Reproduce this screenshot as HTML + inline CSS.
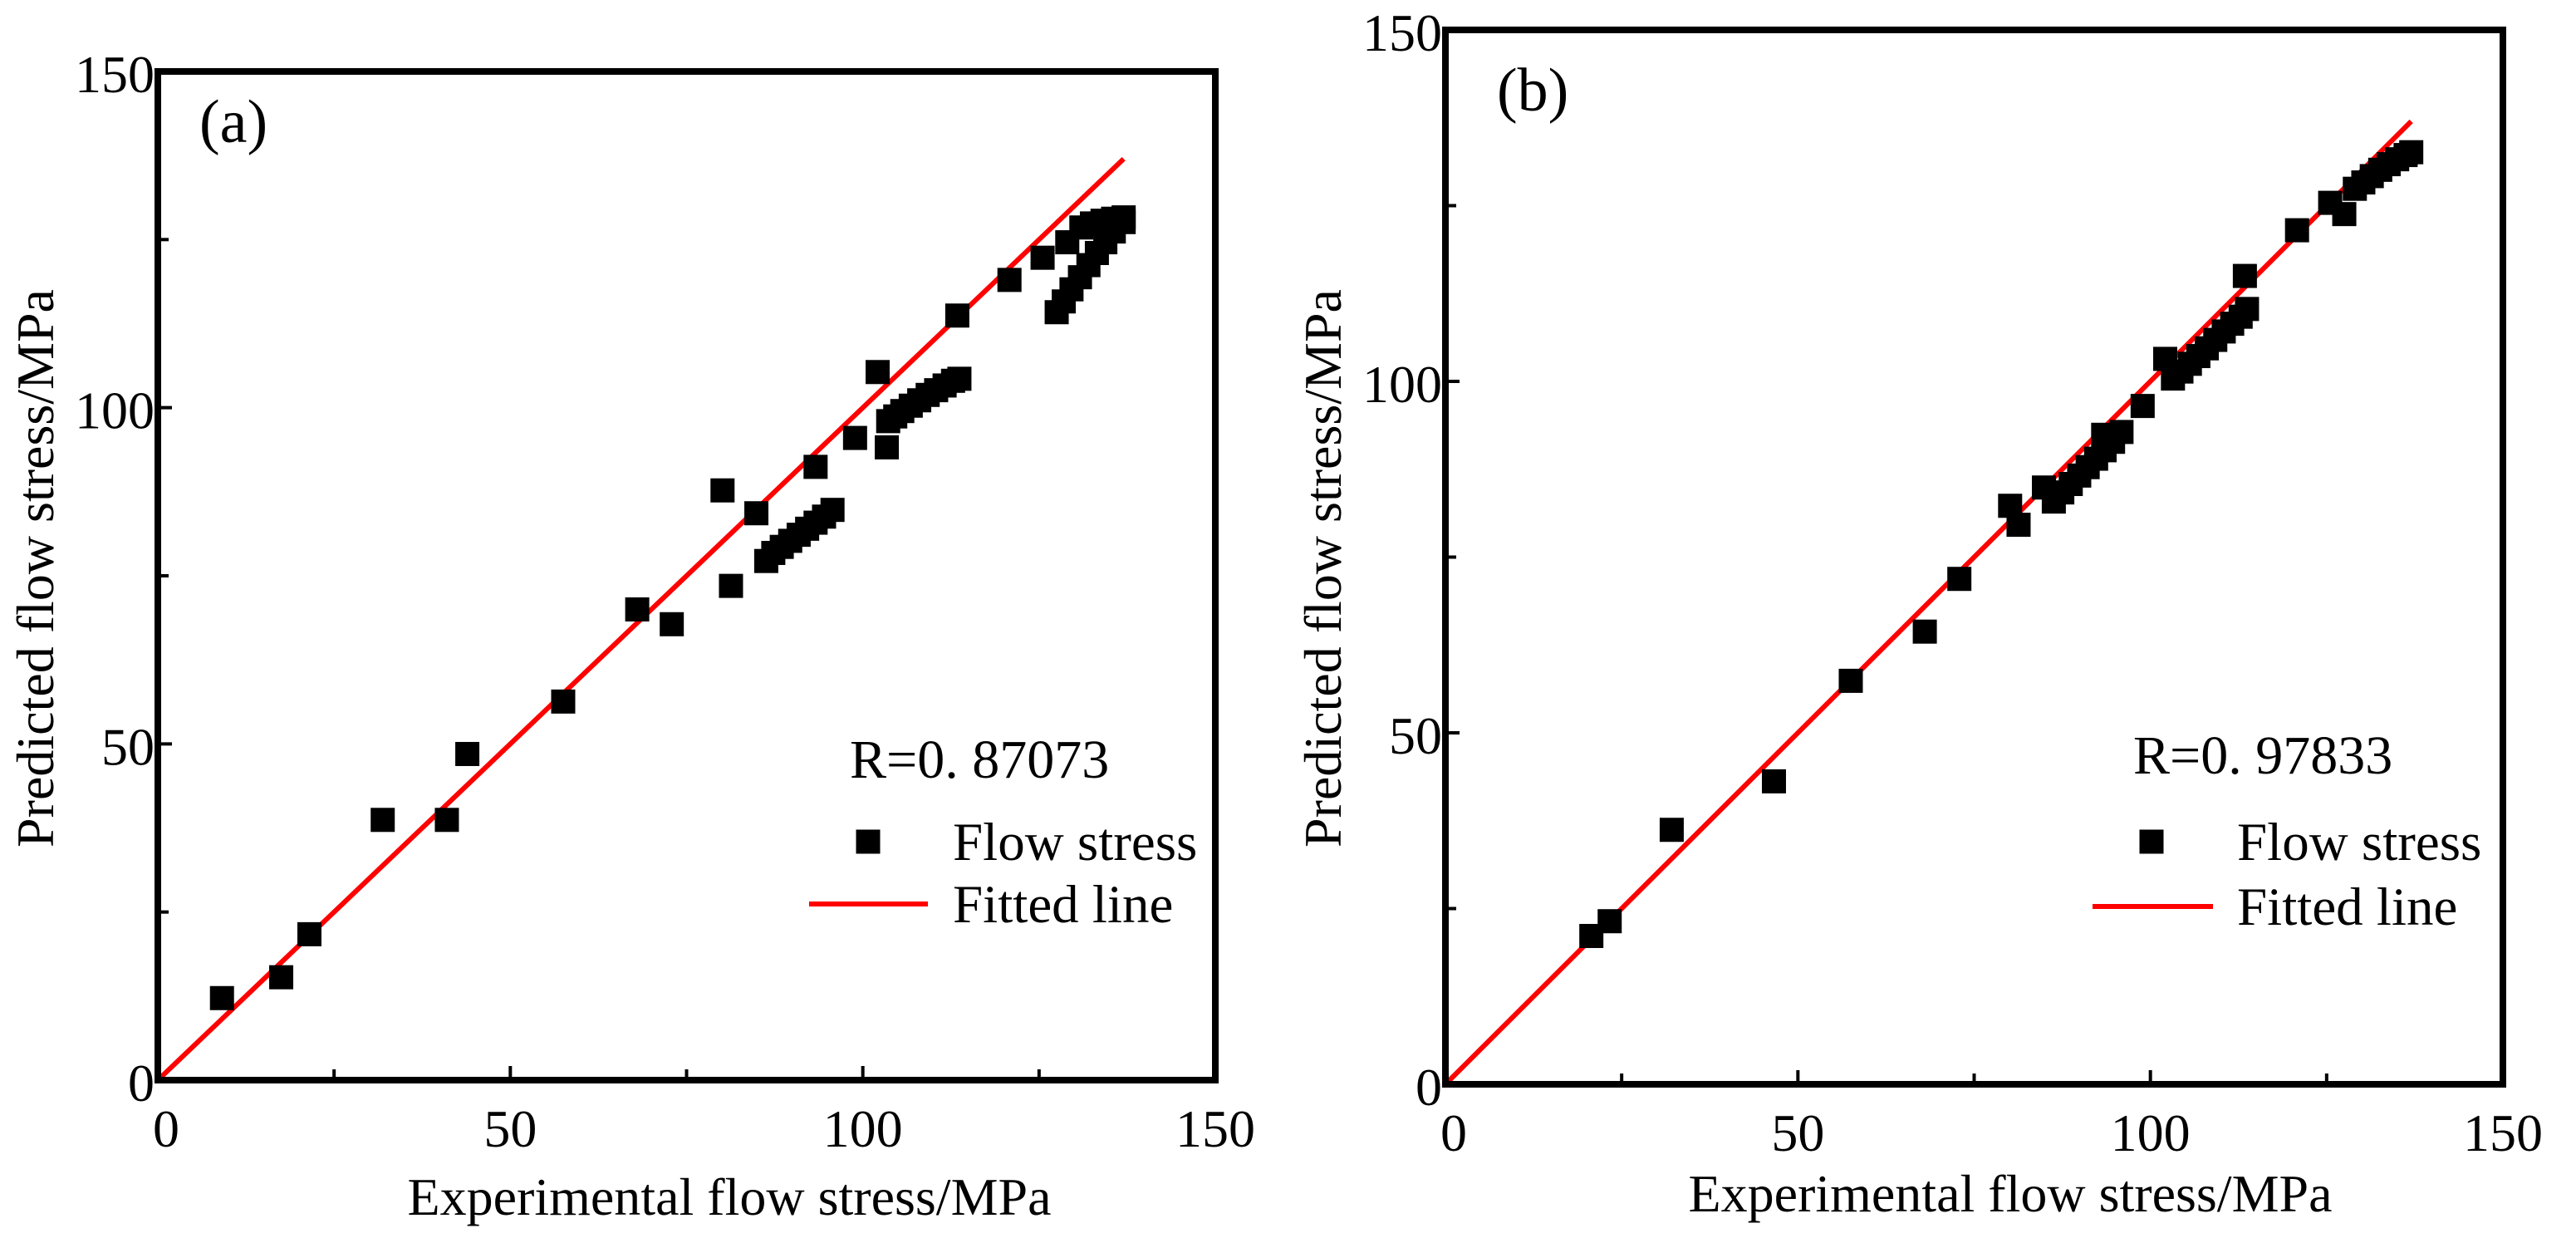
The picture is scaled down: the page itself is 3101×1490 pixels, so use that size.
<!DOCTYPE html>
<html><head><meta charset="utf-8"><style>
html,body{margin:0;padding:0;background:#fff}
svg{display:block}
text{font-family:"Liberation Serif","Times New Roman",serif;fill:#000}
</style></head><body>
<svg id="chart" width="3101" height="1490" viewBox="0 0 3101 1490" xmlns="http://www.w3.org/2000/svg" font-family="Liberation Serif, serif"></svg>
<script>
const ticksMajor = [0, 50, 100, 150];
const ticksMinor = [25, 75, 125];
const fitEnd = 137;
const aX = [9.1,17.5,21.5,31.9,41.0,43.9,57.5,68.0,72.9,80.1,81.3,84.9,86.3,87.3,88.5,89.7,90.9,92.1,93.3,94.5,95.7,93.3,98.9,102.1,103.4,103.6,104.6,105.6,106.8,108,109.2,110.4,111.6,112.8,113.7,113.4,120.8,125.5,129.0,127.5,128.5,129.6,130.8,132,133.2,134.4,135.6,137,131,132.5,134,135.5,137];
const aY = [12.2,15.3,21.7,38.7,38.7,48.5,56.3,70.0,67.8,87.7,73.5,84.3,77.2,78.4,79.3,80.2,81.1,82.0,82.9,83.8,84.8,91.2,95.5,105.3,94.1,98.0,98.7,99.5,100.3,101.1,101.9,102.6,103.3,104.0,104.3,113.7,119.0,122.3,124.6,114.2,115.8,117.6,119.4,121.2,123.0,124.6,126.2,127.6,126.8,127.4,127.8,128.1,128.3];
const bX = [20.7,23.3,32.1,46.6,57.5,68.0,72.9,80.1,81.3,84.9,86.3,87.5,88.7,89.9,91.1,92.3,93.5,94.7,95.9,93.3,98.9,102.1,103.2,104.4,105.6,106.8,108,109.2,110.4,111.6,112.8,113.7,113.4,120.8,125.5,127.5,129,130.2,131.4,132.6,133.8,135,136.2,137];
const bY = [21.1,23.2,36.2,43.1,57.4,64.4,71.9,82.3,79.6,84.9,82.9,84.2,85.4,86.6,87.8,89.0,90.2,91.4,92.8,92.4,96.5,103.2,100.4,101.4,102.5,103.6,104.7,105.9,107.1,108.2,109.2,110.3,115.0,121.5,125.4,123.8,127.4,128.3,129.2,130.1,130.9,131.6,132.2,132.6];

const NS = "http://www.w3.org/2000/svg";
const svg = document.getElementById("chart");
const M = 29;
function mk(tag, attrs, parent, text){
  const e = document.createElementNS(NS, tag);
  for (const k in attrs) e.setAttribute(k, attrs[k]);
  if (text !== undefined) e.textContent = text;
  (parent || svg).appendChild(e);
  return e;
}
function panel(p){
  const g = mk("g", {});
  
  
  const sx = v => p.L + (v / 150) * (p.R - p.L);
  const sy = v => p.B - (v / 150) * (p.B - p.T);
  const fl = mk("line", {x1:sx(0), y1:sy(0), x2:sx(fitEnd), y2:sy(fitEnd), stroke:"#ff0000", "stroke-width":6}, g);
  
  
  for (let i = 0; i < p.xs.length; i++){
    const r = mk("rect", {x:sx(p.xs[i]) - M/2, y:sy(p.ys[i]) - M/2, width:M, height:M, fill:"#000"}, g);
    
    
  }
  const fr = mk("rect", {x:p.L, y:p.T, width:p.R - p.L, height:p.B - p.T, fill:"none", stroke:"#000", "stroke-width":8}, g);
  
  
  ticksMajor.concat(ticksMinor).forEach(v => {
    const len = ticksMajor.includes(v) ? 17 : 13;
    mk("line", {x1:sx(v), y1:p.B, x2:sx(v), y2:p.B - len, stroke:"#000", "stroke-width":4}, g);
    mk("line", {x1:p.L, y1:sy(v), x2:p.L + len, y2:sy(v), stroke:"#000", "stroke-width":4}, g);
  });
  ticksMajor.forEach(v => {
    const tx = mk("text", {x:sx(v) + (v === 0 ? 10 : 0), y:p.B + 80, "font-size":64, "text-anchor":"middle"}, g, String(v));
    
    
    const ty = mk("text", {x:p.L - 4, y:sy(v) + 25, "font-size":64, "text-anchor":"end"}, g, String(v));
    
    
  });
  const xt = mk("text", {x:p.xtx, y:p.xty, "font-size":64, "text-anchor":"middle"}, g, "Experimental flow stress/MPa");
  
  
  const yt = mk("text", {x:0, y:0, "font-size":64, "text-anchor":"middle", transform:`translate(${p.ytx},${p.yty}) rotate(-90)`}, g, "Predicted flow stress/MPa");
  
  
  const pl = mk("text", {x:p.plx, y:p.ply, "font-size":74}, g, p.label);
  
  
  const rt = mk("text", {x:p.rx, y:p.ry, "font-size":66}, g, p.rtext);
  
  
  const ls = mk("rect", {x:p.sqx - M/2, y:p.sqy - M/2, width:M, height:M, fill:"#000"}, g);
  
  
  const lt1 = mk("text", {x:p.ltx, y:p.sqy + 22, "font-size":65}, g, "Flow stress");
  
  
  const ll = mk("line", {x1:p.lx1, y1:p.ly, x2:p.lx2, y2:p.ly, stroke:"#ff0000", "stroke-width":6}, g);
  
  
  const lt2 = mk("text", {x:p.ltx, y:p.ly + 22, "font-size":65}, g, "Fitted line");
  
  
}
panel({id:"a", L:190, R:1463, T:86, B:1300, xs:aX, ys:aY, label:"(a)", plx:240, ply:171,
  rtext:"R=0. 87073", rx:1023, ry:936, sqx:1045, sqy:1013, ltx:1147, lx1:974, lx2:1117, ly:1088,
  xtx:878, xty:1462, ytx:64, yty:684});
panel({id:"b", L:1740, R:3013, T:36, B:1305, xs:bX, ys:bY, label:"(b)", plx:1802, ply:133,
  rtext:"R=0. 97833", rx:2568, ry:931, sqx:2590, sqy:1013, ltx:2693, lx1:2519, lx2:2664, ly:1091,
  xtx:2420, xty:1458, ytx:1614, yty:684});
</script>
</body></html>
